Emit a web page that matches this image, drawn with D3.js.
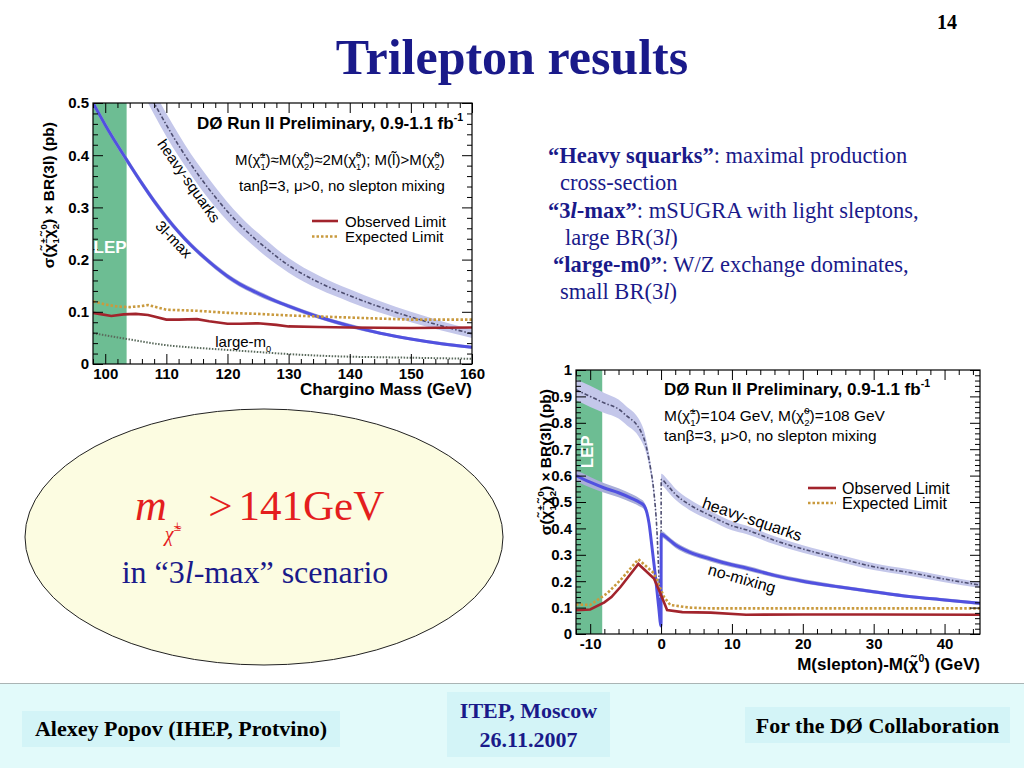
<!DOCTYPE html>
<html>
<head>
<meta charset="utf-8">
<script src="https://cdn.jsdelivr.net/npm/d3@7"></script>
<style>
  body { margin: 0; background: #fff; }
  svg { display: block; }
</style>
</head>
<body>
<svg id="slide" width="1024" height="768"></svg>
<script>
// ---- chart 1: sigma x BR(3l) vs chargino mass
const massTicks = [100, 110, 120, 130, 140, 150, 160];
const xsecTicks1 = [0, 0.1, 0.2, 0.3, 0.4, 0.5];
const lep1 = [98, 103.5];
// [mass, value, band half width]
const heavySq1 = [[107, 0.522, 0.022], [108, 0.50, 0.022], [110, 0.458, 0.022], [112, 0.419, 0.021], [114, 0.383, 0.02],
  [116, 0.35, 0.02], [118, 0.32, 0.019], [120, 0.292, 0.018], [122, 0.267, 0.017], [124, 0.245, 0.016], [126, 0.225, 0.016],
  [128, 0.206, 0.015], [130, 0.189, 0.014], [135, 0.156, 0.013], [140, 0.131, 0.012], [145, 0.109, 0.011],
  [150, 0.09, 0.01], [155, 0.073, 0.009], [160, 0.058, 0.008]];
const max3l = [[98, 0.50, 0.006], [100, 0.458, 0.006], [102, 0.419, 0.006], [104, 0.382, 0.006], [106, 0.346, 0.006],
  [108, 0.312, 0.006], [110, 0.281, 0.006], [112, 0.253, 0.005], [114, 0.228, 0.005], [116, 0.206, 0.005], [118, 0.186, 0.005],
  [120, 0.168, 0.005], [122, 0.153, 0.005], [124, 0.141, 0.005], [126, 0.13, 0.005], [128, 0.12, 0.004], [130, 0.111, 0.004],
  [135, 0.09, 0.004], [140, 0.073, 0.004], [145, 0.059, 0.003], [150, 0.048, 0.003], [155, 0.039, 0.003], [160, 0.032, 0.003]];
const largeM0 = [[98, 0.059], [100, 0.055], [103.5, 0.048], [106, 0.043], [110, 0.036], [115, 0.031], [120, 0.027], [125, 0.023],
  [130, 0.019], [135, 0.016], [140, 0.014], [145, 0.013], [150, 0.012], [155, 0.011], [160, 0.01]];
const observed1 = [[98, 0.098], [99, 0.096], [101, 0.092], [103, 0.095], [105, 0.096], [107, 0.094], [108, 0.091], [110, 0.085],
  [112, 0.085], [115, 0.086], [117, 0.082], [120, 0.077], [122, 0.077], [125, 0.078], [128, 0.075], [130, 0.072], [135, 0.071],
  [140, 0.07], [150, 0.069], [160, 0.07]];
const expected1 = [[98, 0.12], [100, 0.114], [102, 0.11], [104, 0.109], [106, 0.111], [107, 0.113], [108, 0.11], [110, 0.104],
  [115, 0.102], [120, 0.098], [125, 0.096], [130, 0.093], [135, 0.091], [140, 0.089], [145, 0.087], [150, 0.085], [160, 0.085]];

// ---- chart 2: sigma x BR(3l) vs M(slepton)-M(chi0)
const dmTicks = [-10, 0, 10, 20, 30, 40];
const xsecTicks2 = [0, 0.1, 0.2, 0.3, 0.4, 0.5, 0.6, 0.7, 0.8, 0.9, 1];
const lep2 = [-12, -8.3];
const heavySq2 = [[-12, 0.925, 0.04], [-10, 0.9, 0.04], [-8, 0.875, 0.038], [-6, 0.852, 0.036], [-4.8, 0.825, 0.035],
  [-3.5, 0.795, 0.034], [-2.9, 0.77, 0.033], [-2.4, 0.74, 0.03], [-2, 0.7, 0.025], [-1.5, 0.63, 0.02], [-1, 0.535, 0.015],
  [-0.6, 0.4, 0.01], [-0.3, 0.22, 0.008], [0, 0.06, 0.005], [0.02, 0.585, 0.022], [1, 0.56, 0.022], [2, 0.53, 0.021],
  [4, 0.49, 0.02], [7, 0.448, 0.018], [10, 0.41, 0.017], [12, 0.395, 0.016], [16, 0.355, 0.015], [20, 0.322, 0.014],
  [25, 0.288, 0.013], [30, 0.255, 0.013], [35, 0.233, 0.012], [40, 0.208, 0.012], [45, 0.185, 0.011]];
const noMixing = [[-12, 0.6, 0.02], [-10, 0.575, 0.02], [-8, 0.553, 0.018], [-6, 0.535, 0.017], [-4, 0.512, 0.016],
  [-3, 0.498, 0.015], [-2.4, 0.486, 0.014], [-2, 0.46, 0.012], [-1.7, 0.42, 0.01], [-1.3, 0.334, 0.008], [-0.8, 0.22, 0.006],
  [-0.35, 0.107, 0.005], [0, 0.03, 0.004], [0.02, 0.378, 0.012], [1, 0.36, 0.011], [2, 0.338, 0.011], [4, 0.31, 0.01],
  [7, 0.284, 0.01], [10, 0.262, 0.009], [12, 0.25, 0.009], [16, 0.222, 0.008], [20, 0.2, 0.008], [25, 0.179, 0.007],
  [30, 0.16, 0.007], [35, 0.142, 0.006], [40, 0.129, 0.006], [45, 0.116, 0.006]];
const observed2 = [[-12, 0.09], [-10, 0.093], [-8, 0.12], [-7, 0.14], [-5.7, 0.179], [-3.2, 0.265], [-1, 0.21], [-0.1, 0.154],
  [0.85, 0.091], [3, 0.083], [7, 0.081], [12, 0.073], [20, 0.074], [30, 0.074], [45, 0.073]];
const expected2 = [[-12, 0.112], [-10, 0.11], [-7.6, 0.154], [-5.7, 0.205], [-3.2, 0.283], [-1, 0.23], [0.4, 0.141],
  [1.3, 0.11], [4, 0.1], [7, 0.097], [15, 0.097], [30, 0.097], [45, 0.097]];

const navy = "#1a1a8a";
const sans = "Liberation Sans, Arial, sans-serif";
const serif = "Liberation Serif, Times New Roman, serif";
const svg = d3.select("#slide");

// text with sub / superscripts: parts = [text, kind, extra]
function rich(sel, parts, fs) {
  let off = 0;
  const small = fs * 0.62;
  parts.forEach(([txt, kind, extra]) => {
    if (kind === "sub" || kind === "sup") {
      const target = kind === "sub" ? fs * 0.3 : -fs * 0.45;
      sel.append("tspan").attr("dy", target - off).attr("font-size", small).text(txt);
      off = target;
    } else if (kind === "subsup") {
      const s1 = fs * 0.3, s2 = -fs * 0.45;
      sel.append("tspan").attr("dy", s1 - off).attr("font-size", small).text(txt);
      sel.append("tspan").attr("dy", s2 - s1).attr("dx", -small * 0.56 * txt.length).attr("font-size", small).text(extra);
      off = s2;
    } else {
      sel.append("tspan").attr("dy", -off).text(txt);
      off = 0;
    }
  });
  return sel;
}

function drawPanel(p) {
  const g = svg.append("g");
  const x = d3.scaleLinear().domain(p.xDomain).range([p.left, p.right]);
  const y = d3.scaleLinear().domain(p.yDomain).range([p.bottom, p.top]);

  svg.append("clipPath").attr("id", p.id).append("rect")
    .attr("x", p.left).attr("y", p.top)
    .attr("width", p.right - p.left).attr("height", p.bottom - p.top);
  const plot = g.append("g").attr("clip-path", `url(#${p.id})`);

  plot.append("rect")
    .attr("x", x(p.lep[0])).attr("width", x(p.lep[1]) - x(p.lep[0]))
    .attr("y", p.top).attr("height", p.bottom - p.top)
    .attr("fill", "#6dbd93");

  const band = d3.area().x(d => x(d[0])).y0(d => y(d[1] - d[2])).y1(d => y(d[1] + d[2])).curve(p.curve);
  const smooth = d3.line().x(d => x(d[0])).y(d => y(d[1])).curve(p.curve);
  const straight = d3.line().x(d => x(d[0])).y(d => y(d[1]));

  plot.append("path").datum(p.heavy).attr("d", band).attr("fill", "#c4c7ea");
  plot.append("path").datum(p.heavy).attr("d", smooth).attr("fill", "none")
    .attr("stroke", "#4d4d70").attr("stroke-width", 1.6).attr("stroke-dasharray", "4,2,1.5,2");
  plot.append("path").datum(p.blue).attr("d", band).attr("fill", "#a9aed8");
  plot.append("path").datum(p.blue).attr("d", smooth).attr("fill", "none")
    .attr("stroke", "#5151e0").attr("stroke-width", 3);
  if (p.largeM0) {
    plot.append("path").datum(p.largeM0).attr("d", smooth).attr("fill", "none")
      .attr("stroke", "#5a6a5c").attr("stroke-width", 2).attr("stroke-dasharray", "1.5,1.5");
  }
  plot.append("path").datum(p.expected).attr("d", straight).attr("fill", "none")
    .attr("stroke", "#c99a3e").attr("stroke-width", 2.6).attr("stroke-dasharray", "2.5,2");
  plot.append("path").datum(p.observed).attr("d", straight).attr("fill", "none")
    .attr("stroke", "#a2242c").attr("stroke-width", 2.6);

  // axes: ROOT style, ticks inward on all four sides
  const fmt = d => String(+d.toFixed(2));
  const styleAxis = sel => {
    sel.select(".domain").remove();
    sel.selectAll("line").attr("stroke", "#000").attr("stroke-width", 1);
    sel.attr("font-family", sans).attr("font-size", 15).attr("font-weight", "bold");
    sel.selectAll("text").attr("fill", "#000");
  };
  const xMinor = p.xMinor, yMinor = p.yMinor;
  g.append("g").attr("transform", `translate(0,${p.bottom})`)
    .call(d3.axisBottom(x).tickValues(p.xTicks).tickSize(-10).tickPadding(4).tickFormat(fmt)).call(styleAxis);
  g.append("g").attr("transform", `translate(0,${p.bottom})`)
    .call(d3.axisBottom(x).tickValues(xMinor).tickSize(-5).tickFormat("")).call(styleAxis);
  g.append("g").attr("transform", `translate(0,${p.top})`)
    .call(d3.axisTop(x).tickValues(p.xTicks).tickSize(-10).tickFormat("")).call(styleAxis);
  g.append("g").attr("transform", `translate(0,${p.top})`)
    .call(d3.axisTop(x).tickValues(xMinor).tickSize(-5).tickFormat("")).call(styleAxis);
  g.append("g").attr("transform", `translate(${p.left},0)`)
    .call(d3.axisLeft(y).tickValues(p.yTicks).tickSize(-10).tickPadding(4).tickFormat(fmt)).call(styleAxis);
  g.append("g").attr("transform", `translate(${p.left},0)`)
    .call(d3.axisLeft(y).tickValues(yMinor).tickSize(-5).tickFormat("")).call(styleAxis);
  g.append("g").attr("transform", `translate(${p.right},0)`)
    .call(d3.axisRight(y).tickValues(p.yTicks).tickSize(-10).tickFormat("")).call(styleAxis);
  g.append("g").attr("transform", `translate(${p.right},0)`)
    .call(d3.axisRight(y).tickValues(yMinor).tickSize(-5).tickFormat("")).call(styleAxis);

  g.append("rect").attr("x", p.left).attr("y", p.top)
    .attr("width", p.right - p.left).attr("height", p.bottom - p.top)
    .attr("fill", "none").attr("stroke", "#000").attr("stroke-width", 1.2);

  return { g, x, y };
}

// ================= slide =================
svg.append("text").attr("x", 957).attr("y", 29).attr("text-anchor", "end")
  .attr("font-family", serif).attr("font-weight", "bold").attr("font-size", 20).attr("fill", "#000").text("14");
svg.append("text").attr("x", 512).attr("y", 74).attr("text-anchor", "middle")
  .attr("font-family", serif).attr("font-weight", "bold").attr("font-size", 50).attr("fill", navy)
  .text("Trilepton results");

// ---------- chart 1
const c1 = drawPanel({
  id: "clip1", left: 93, right: 472, top: 103, bottom: 364,
  xDomain: [98, 160], yDomain: [0, 0.5],
  xTicks: massTicks, yTicks: xsecTicks1,
  xMinor: d3.range(98, 161, 2).filter(v => v % 10 !== 0),
  yMinor: d3.range(0, 0.5, 0.02).filter((v, i) => i % 5 !== 0),
  lep: lep1, heavy: heavySq1, blue: max3l, largeM0: largeM0,
  observed: observed1, expected: expected1,
  curve: d3.curveMonotoneX
});
{
  const { g, x, y } = c1;
  const t = (px, py, fs, bold) => g.append("text").attr("x", px).attr("y", py)
    .attr("font-family", sans).attr("font-size", fs).attr("font-weight", bold ? "bold" : "normal").attr("fill", "#000");
  rich(t(197, 129, 17, true), [["DØ Run II Preliminary, 0.9-1.1 fb"], ["-1", "sup"]], 17);
  rich(t(235, 165, 15, false), [["M(χ̃"], ["1", "subsup", "±"], [")≈M(χ̃"], ["2", "subsup", "0"], [")≈2M(χ̃"],
    ["1", "subsup", "0"], ["); M(l̃)>M(χ̃"], ["2", "subsup", "0"], [")"]], 15);
  t(239, 191, 15, false).text("tanβ=3, μ>0, no slepton mixing");
  g.append("line").attr("x1", 312).attr("x2", 338).attr("y1", 221).attr("y2", 221)
    .attr("stroke", "#a2242c").attr("stroke-width", 2.6);
  g.append("line").attr("x1", 312).attr("x2", 338).attr("y1", 236.5).attr("y2", 236.5)
    .attr("stroke", "#c99a3e").attr("stroke-width", 2.6).attr("stroke-dasharray", "2.5,2");
  t(345, 226.5, 15, false).text("Observed Limit");
  t(345, 242, 15, false).text("Expected Limit");
  t(0, 0, 15, false).attr("transform", `translate(${x(113)},${y(0.345)}) rotate(55)`)
    .attr("text-anchor", "middle").text("heavy-squarks");
  t(0, 0, 15, false).attr("transform", `translate(${x(110.6)},${y(0.232)}) rotate(46)`)
    .attr("text-anchor", "middle").text("3l-max");
  rich(t(x(118), y(0.032), 15, false), [["large-m"], ["0", "sub"]], 15);
  t(x(100.8), y(0.213), 17, true).attr("text-anchor", "middle").attr("fill", "#fff").text("LEP");
  t(472, 395, 17, true).attr("text-anchor", "end").text("Chargino Mass (GeV)");
  rich(t(0, 0, 15.5, true).attr("transform", "translate(54,122) rotate(-90)").attr("text-anchor", "end"),
    [["σ(χ̃"], ["1", "subsup", "±"], ["χ̃"], ["2", "subsup", "0"], [") × BR(3l) (pb)"]], 15.5);
}

// ---------- text block
const notes = [
  { y: 163, x: 548, parts: [["“Heavy squarks”", "b"], [": maximal production", "n"]] },
  { y: 190, x: 560, parts: [["cross-section", "n"]] },
  { y: 218, x: 548, parts: [["“3", "b"], ["l", "bi"], ["-max”", "b"], [": mSUGRA with light sleptons,", "n"]] },
  { y: 245, x: 565, parts: [["large BR(3", "n"], ["l", "i"], [")", "n"]] },
  { y: 272, x: 553, parts: [["“large-m0”", "b"], [": W/Z exchange dominates,", "n"]] },
  { y: 299, x: 560, parts: [["small BR(3", "n"], ["l", "i"], [")", "n"]] }
];
notes.forEach(n => {
  const txt = svg.append("text").attr("x", n.x).attr("y", n.y)
    .attr("font-family", serif).attr("font-size", 22.5).attr("fill", navy);
  n.parts.forEach(([s, k]) => {
    txt.append("tspan").attr("font-weight", k.includes("b") ? "bold" : "normal")
      .attr("font-style", k.includes("i") ? "italic" : "normal").text(s);
  });
});

// ---------- chart 2
const c2 = drawPanel({
  id: "clip2", left: 576, right: 980, top: 370, bottom: 634,
  xDomain: [-12, 45], yDomain: [0, 1],
  xTicks: dmTicks, yTicks: xsecTicks2,
  xMinor: d3.range(-12, 45, 2).filter(v => v % 10 !== 0),
  yMinor: d3.range(0, 1, 0.02).filter((v, i) => i % 5 !== 0),
  lep: lep2, heavy: heavySq2, blue: noMixing,
  observed: observed2, expected: expected2,
  curve: d3.curveMonotoneX
});
{
  const { g, x, y } = c2;
  const t = (px, py, fs, bold) => g.append("text").attr("x", px).attr("y", py)
    .attr("font-family", sans).attr("font-size", fs).attr("font-weight", bold ? "bold" : "normal").attr("fill", "#000");
  rich(t(664, 395, 17, true), [["DØ Run II Preliminary, 0.9-1.1 fb"], ["-1", "sup"]], 17);
  rich(t(664, 421, 15.5, false), [["M(χ̃"], ["1", "subsup", "±"], [")=104 GeV, M(χ̃"], ["2", "subsup", "0"], [")=108 GeV"]], 15.5);
  t(664, 441, 15.5, false).text("tanβ=3, μ>0, no slepton mixing");
  g.append("line").attr("x1", 808).attr("x2", 836).attr("y1", 488).attr("y2", 488)
    .attr("stroke", "#a2242c").attr("stroke-width", 2.6);
  g.append("line").attr("x1", 808).attr("x2", 836).attr("y1", 503).attr("y2", 503)
    .attr("stroke", "#c99a3e").attr("stroke-width", 2.6).attr("stroke-dasharray", "2.5,2");
  t(842, 493.5, 16, false).text("Observed Limit");
  t(842, 508.5, 16, false).text("Expected Limit");
  t(0, 0, 16, false).attr("transform", `translate(${x(12.6)},${y(0.415)}) rotate(19)`)
    .attr("text-anchor", "middle").text("heavy-squarks");
  t(0, 0, 16, false).attr("transform", `translate(${x(11.2)},${y(0.19)}) rotate(16)`)
    .attr("text-anchor", "middle").text("no-mixing");
  t(0, 0, 17, true).attr("transform", `translate(${x(-9.6)},${y(0.69)}) rotate(-90)`)
    .attr("text-anchor", "middle").attr("fill", "#fff").text("LEP");
  rich(t(980, 670, 17, true).attr("text-anchor", "end"), [["M(slepton)-M(χ̃"], ["0", "sup"], [") (GeV)"]], 17);
  rich(t(0, 0, 15.5, true).attr("transform", "translate(551,389) rotate(-90)").attr("text-anchor", "end"),
    [["σ(χ̃"], ["1", "subsup", "±"], ["χ̃"], ["2", "subsup", "0"], [") × BR(3l) (pb)"]], 15.5);
}

// ---------- ellipse with the result
svg.append("ellipse").attr("cx", 264).attr("cy", 537).attr("rx", 239).attr("ry", 128)
  .attr("fill", "#fcfce1").attr("stroke", "#222").attr("stroke-width", 1);
{
  const m = svg.append("text").attr("x", 135).attr("y", 520).attr("font-family", serif)
    .attr("fill", "#e41e1e");
  m.append("tspan").attr("font-style", "italic").attr("font-size", 44).text("m");
  m.append("tspan").attr("font-style", "italic").attr("font-size", 20).attr("dx", -2).attr("dy", 21).text("χ̃");
  m.append("tspan").attr("font-size", 14).attr("dy", -10).text("±");
  m.append("tspan").attr("font-size", 43).attr("dx", 27).attr("dy", -11).text(">");
  m.append("tspan").attr("font-size", 43).attr("dx", 6).text("141GeV");
}
{
  const t = svg.append("text").attr("x", 255).attr("y", 583).attr("text-anchor", "middle")
    .attr("font-family", serif).attr("font-size", 32).attr("fill", navy);
  t.append("tspan").text("in “3");
  t.append("tspan").attr("font-style", "italic").text("l");
  t.append("tspan").text("-max” scenario");
}

// ---------- footer
svg.append("rect").attr("x", 0).attr("y", 683).attr("width", 1024).attr("height", 85).attr("fill", "#e2fafa");
svg.append("line").attr("x1", 0).attr("x2", 1024).attr("y1", 683.5).attr("y2", 683.5).attr("stroke", "#aab4b4");
const footBoxes = [
  { x: 22, y: 711, w: 318, h: 36, lines: ["Alexey Popov (IHEP, Protvino)"], fill: "#000", base: [736] },
  { x: 447, y: 692, w: 163, h: 65, lines: ["ITEP, Moscow"], fill: navy, base: [718] },
  { x: 447, y: 692, w: 163, h: 0, lines: ["26.11.2007"], fill: navy, base: [747] },
  { x: 745, y: 707, w: 265, h: 36, lines: ["For the DØ Collaboration"], fill: "#000", base: [733] }
];
footBoxes.forEach(b => {
  if (b.h > 0) svg.append("rect").attr("x", b.x).attr("y", b.y).attr("width", b.w).attr("height", b.h).attr("fill", "#d3f4f7");
  b.lines.forEach((s, i) => {
    svg.append("text").attr("x", b.x + b.w / 2).attr("y", b.base[i]).attr("text-anchor", "middle")
      .attr("font-family", serif).attr("font-weight", "bold").attr("font-size", 22).attr("fill", b.fill).text(s);
  });
});
</script>
</body>
</html>
